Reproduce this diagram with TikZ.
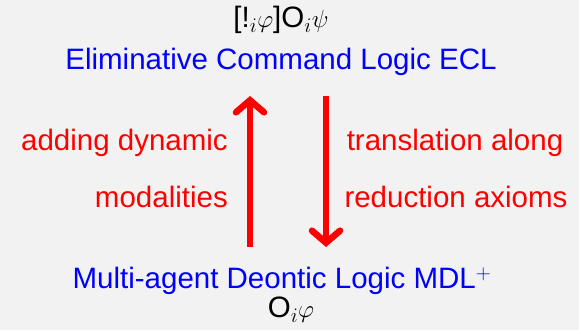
\documentclass[tikz,border=0pt]{standalone}
\usepackage{fontspec}
\setmainfont{Liberation Sans}
\usepackage{amsmath, amssymb}
\usetikzlibrary{positioning,arrows.meta}
\definecolor{bgcol}{RGB}{242,242,242}

\begin{document}
\begin{tikzpicture}[
  x=1pt, y=-1pt,
  font=\fontsize{29.5}{35}\selectfont,
  logic/.style={text=blue, inner sep=0pt},
  formula/.style={text=black, inner sep=0pt},
  lbl/.style={text=red, inner sep=0pt},
  arr/.style={line width=6.5pt, color=red,
              -{Straight Barb[length=12pt, width=28pt, line cap=round, line width=6.5pt]}},
]
\fill[bgcol] (0,0) rectangle (579,330);
\useasboundingbox (0,0) rectangle (579,330);

\node[formula] (top) at (281,20) {[!$_i\varphi$]O$_i\psi$};
\node[logic] (ecl) at (281,62) {Eliminative Command Logic ECL};
\node[logic] (mdl) at (282,281) {Multi-agent Deontic Logic MDL$^+$};
\node[formula] (bot) at (291,310) {O$_i\varphi$};

\node[lbl, anchor=east] (add) at (228,143) {adding dynamic};
\node[lbl, anchor=east] (mod) at (228,197) {modalities};
\node[lbl] (tra) at (455,143) {translation along};
\node[lbl] (red) at (456,197) {reduction axioms};

\coordinate (upS) at (250,247);
\coordinate (upE) at (250,96);
\coordinate (dnS) at (326,96);
\coordinate (dnE) at (326,247);

\draw[arr] (upS) -- (upE);
\draw[arr] (dnS) -- (dnE);
\end{tikzpicture}
\end{document}
